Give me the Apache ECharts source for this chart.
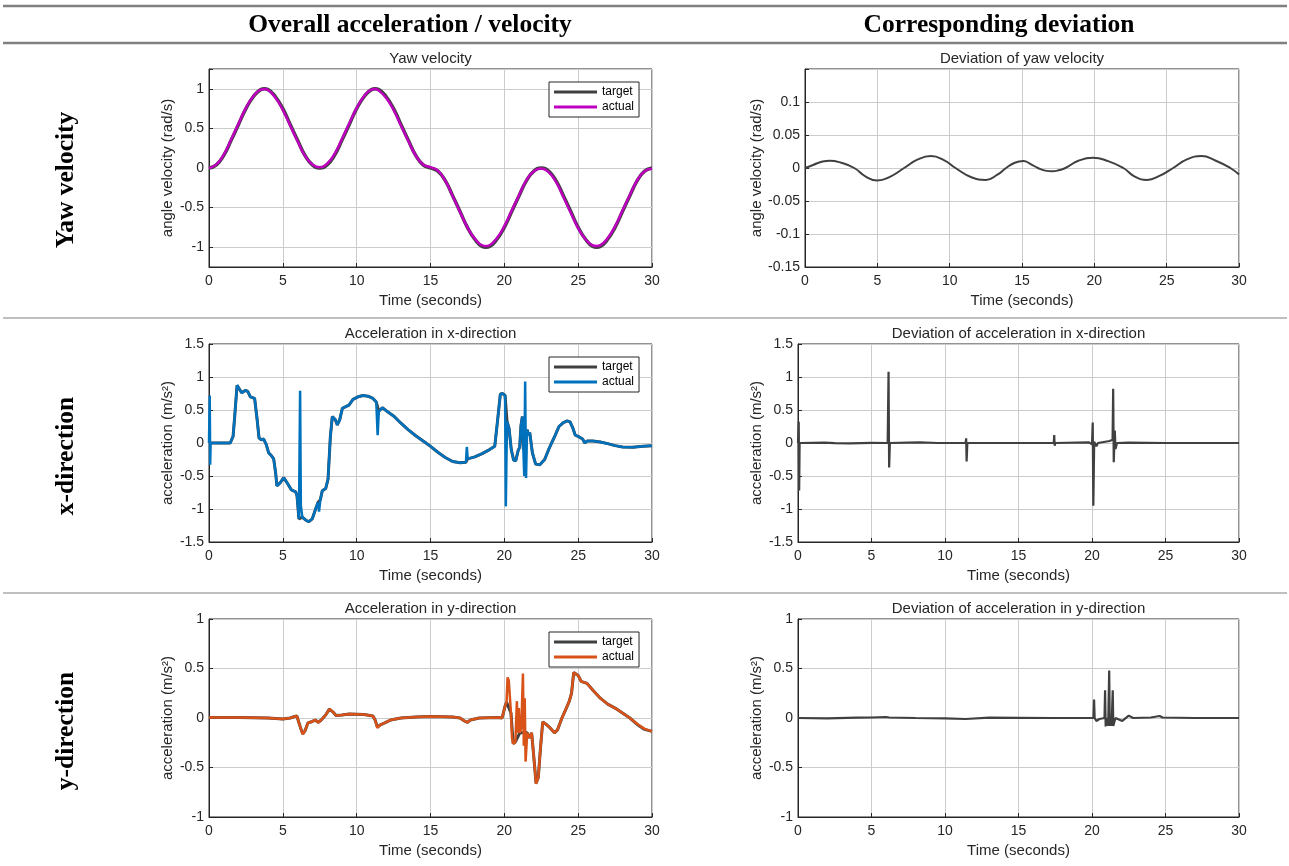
<!DOCTYPE html>
<html>
<head>
<meta charset="utf-8">
<script src="https://cdn.jsdelivr.net/npm/echarts@6/dist/echarts.min.js"></script>
<style>
html,body{margin:0;padding:0;background:#fff;}
#chart{width:1289px;height:866px;}
</style>
</head>
<body>
<div id="chart"></div>
<script>
// ---------------- DATA ----------------
const xTicks = [0, 5, 10, 15, 20, 25, 30];
const headers = ['Overall acceleration / velocity', 'Corresponding deviation'];
const rowLabels = ['Yaw velocity', 'x-direction', 'y-direction'];
const panelTitles = ['Yaw velocity', 'Deviation of yaw velocity', 'Acceleration in x-direction',
  'Deviation of acceleration in x-direction', 'Acceleration in y-direction', 'Deviation of acceleration in y-direction'];
const legendNames = ['target', 'actual'];

// yaw velocity (rad/s) [time, value]
const yawTarget = [[0,0],[0.5,0.04],[1,0.16],[1.5,0.35],[2,0.55],[2.5,0.75],[3,0.9],[3.5,0.99],[3.75,1],[4,0.99],[4.5,0.9],[5,0.75],[5.5,0.55],[6,0.35],[6.5,0.16],[7,0.04],[7.5,0],[8,0.04],[8.5,0.16],[9,0.35],[9.5,0.55],[10,0.75],[10.5,0.9],[11,0.99],[11.25,1],[11.5,0.99],[12,0.9],[12.5,0.75],[13,0.55],[13.5,0.35],[14,0.16],[14.5,0.04],[15,0],[15.5,-0.04],[16,-0.16],[16.5,-0.35],[17,-0.55],[17.5,-0.75],[18,-0.9],[18.5,-0.99],[18.75,-1],[19,-0.99],[19.5,-0.9],[20,-0.75],[20.5,-0.55],[21,-0.35],[21.5,-0.16],[22,-0.04],[22.5,0],[23,-0.04],[23.5,-0.16],[24,-0.35],[24.5,-0.55],[25,-0.75],[25.5,-0.9],[26,-0.99],[26.25,-1],[26.5,-0.99],[27,-0.9],[27.5,-0.75],[28,-0.55],[28.5,-0.35],[29,-0.16],[29.5,-0.04],[30,0]];
const yawActual = [[0,0],[0.5,0.045],[1,0.17],[1.5,0.36],[2,0.56],[2.5,0.758],[3,0.905],[3.5,0.99],[3.75,0.997],[4,0.985],[4.5,0.887],[5,0.731],[5.5,0.535],[6,0.337],[6.5,0.153],[7,0.044],[7.5,0.008],[8,0.055],[8.5,0.177],[9,0.366],[9.5,0.564],[10,0.758],[10.5,0.905],[11,0.99],[11.25,0.996],[11.5,0.978],[12,0.883],[12.5,0.732],[13,0.536],[13.5,0.34],[14,0.158],[14.5,0.045],[15,0.01],[15.5,-0.034],[16,-0.16],[16.5,-0.353],[17,-0.554],[17.5,-0.75],[18,-0.892],[18.5,-0.978],[18.75,-0.986],[19,-0.975],[19.5,-0.885],[20,-0.735],[20.5,-0.537],[21,-0.34],[21.5,-0.153],[22,-0.04],[22.5,-0.006],[23,-0.052],[23.5,-0.176],[24,-0.367],[24.5,-0.565],[25,-0.76],[25.5,-0.9],[26,-0.978],[26.25,-0.985],[26.5,-0.975],[27,-0.883],[27.5,-0.733],[28,-0.537],[28.5,-0.34],[29,-0.155],[29.5,-0.04],[30,-0.01]];
const yawDeviation = [[0,0],[0.6,0.005],[1.1,0.009],[1.7,0.011],[2.5,0.008],[3.4,0],[4.2,-0.013],[5,-0.019],[5.9,-0.013],[6.85,0],[7.8,0.013],[8.7,0.018],[9.6,0.012],[10.4,0],[11.5,-0.014],[12.5,-0.018],[13.3,-0.01],[13.9,0],[14.5,0.008],[15.1,0.0105],[15.6,0.006],[16.1,0],[16.6,-0.004],[17.1,-0.005],[17.6,-0.003],[18,0],[18.9,0.011],[19.9,0.0155],[21,0.01],[22,0],[22.8,-0.013],[23.65,-0.018],[24.5,-0.012],[25.45,0],[26.4,0.013],[27.4,0.018],[28.4,0.011],[29.4,0],[30,-0.01]];

// acceleration in x-direction (m/s^2)
const xAccTarget = [[0,0],[1.44,0],[1.63,0.1],[1.74,0.4],[1.9,0.875],[2.03,0.85],[2.21,0.76],[2.48,0.8],[2.64,0.775],[2.8,0.7],[3.09,0.675],[3.25,0.375],[3.39,0.075],[3.54,0.05],[3.7,0.06],[3.88,-0.025],[4.04,-0.15],[4.22,-0.19],[4.38,-0.24],[4.51,-0.45],[4.6,-0.65],[4.79,-0.61],[5.06,-0.525],[5.19,-0.54],[5.35,-0.625],[5.58,-0.71],[5.87,-0.74],[5.96,-0.8],[6.09,-1.15],[6.32,-1.125],[6.6,-1.175],[6.77,-1.19],[6.99,-1.15],[7.22,-1.0],[7.38,-0.9],[7.54,-0.86],[7.67,-0.725],[7.9,-0.69],[8.06,-0.55],[8.22,0.1],[8.35,0.4],[8.44,0.425],[8.56,0.35],[8.69,0.275],[8.85,0.35],[9.03,0.525],[9.26,0.55],[9.48,0.575],[9.75,0.66],[10.09,0.7],[10.43,0.72],[10.77,0.71],[11.1,0.675],[11.33,0.62],[11.5,0.48],[11.74,0.535],[12,0.49],[12.5,0.41],[13,0.3],[13.5,0.2],[14,0.11],[14.5,0.03],[15,-0.05],[15.5,-0.14],[16,-0.22],[16.5,-0.28],[17,-0.3],[17.4,-0.29],[17.52,-0.24],[18,-0.21],[18.5,-0.16],[19,-0.1],[19.35,-0.05],[19.57,0.4],[19.73,0.74],[19.87,0.75],[20.05,0.72],[20.18,0.33],[20.32,0.22],[20.47,-0.1],[20.63,-0.26],[20.77,-0.27],[20.93,-0.12],[21.04,-0.06],[21.13,0.27],[21.22,0.4],[21.29,-0.1],[21.54,0.2],[21.65,0.12],[21.72,0.16],[21.9,-0.15],[22.12,-0.32],[22.4,-0.33],[22.73,-0.25],[23,-0.1],[23.2,0],[23.45,0.12],[23.7,0.25],[24,0.31],[24.25,0.335],[24.45,0.32],[24.65,0.22],[24.8,0.12],[25,0.1],[25.3,0.06],[25.45,0],[25.6,0.03],[26,0.03],[26.5,0.015],[27,-0.01],[27.5,-0.04],[28,-0.06],[28.7,-0.065],[29.4,-0.05],[30,-0.04]];
const xAccActual = [[0,0],[0.05,0.72],[0.08,-0.33],[0.11,0],[1.44,0],[1.63,0.1],[1.74,0.4],[1.9,0.875],[2.03,0.85],[2.21,0.76],[2.48,0.8],[2.64,0.775],[2.8,0.7],[3.09,0.675],[3.25,0.375],[3.39,0.075],[3.54,0.05],[3.7,0.06],[3.88,-0.025],[4.04,-0.15],[4.22,-0.19],[4.38,-0.24],[4.51,-0.45],[4.6,-0.65],[4.79,-0.61],[5.06,-0.525],[5.19,-0.54],[5.35,-0.625],[5.58,-0.71],[5.87,-0.74],[5.96,-0.8],[6.09,-1.15],[6.17,0.79],[6.22,-0.95],[6.32,-1.125],[6.42,-1.12],[6.6,-1.175],[6.77,-1.19],[6.99,-1.15],[7.22,-1.0],[7.38,-0.9],[7.45,-1.04],[7.54,-0.86],[7.67,-0.725],[7.9,-0.69],[8.06,-0.55],[8.22,0.1],[8.35,0.4],[8.44,0.425],[8.56,0.35],[8.69,0.275],[8.85,0.35],[9.03,0.525],[9.26,0.55],[9.48,0.575],[9.75,0.66],[10.09,0.7],[10.43,0.72],[10.77,0.71],[11.1,0.675],[11.33,0.62],[11.42,0.12],[11.5,0.48],[11.74,0.535],[12,0.49],[12.5,0.41],[13,0.3],[13.5,0.2],[14,0.11],[14.5,0.03],[15,-0.05],[15.5,-0.14],[16,-0.22],[16.5,-0.28],[17,-0.3],[17.4,-0.29],[17.46,-0.06],[17.52,-0.24],[18,-0.21],[18.5,-0.16],[19,-0.1],[19.35,-0.05],[19.57,0.4],[19.73,0.74],[19.87,0.75],[20.05,0.72],[20.1,-0.96],[20.18,0.33],[20.32,0.22],[20.47,-0.1],[20.63,-0.26],[20.77,-0.27],[20.93,-0.12],[21.04,-0.06],[21.13,0.27],[21.22,0.4],[21.29,-0.1],[21.35,-0.5],[21.41,0.93],[21.47,-0.53],[21.54,0.2],[21.65,0.12],[21.72,0.16],[21.9,-0.15],[22.12,-0.32],[22.4,-0.33],[22.73,-0.25],[23,-0.1],[23.2,0],[23.45,0.12],[23.7,0.25],[24,0.31],[24.25,0.335],[24.45,0.32],[24.65,0.22],[24.8,0.12],[25,0.1],[25.3,0.06],[25.45,0],[25.6,0.03],[26,0.03],[26.5,0.015],[27,-0.01],[27.5,-0.04],[28,-0.06],[28.7,-0.065],[29.4,-0.05],[30,-0.04]];
const xAccDeviation = [[0,0],[0.05,0.32],[0.08,-0.72],[0.11,0],[1.8,0.005],[2.5,-0.003],[3.5,-0.005],[5,0.003],[6.1,0],[6.16,1.08],[6.2,-0.37],[6.25,0],[7.5,0.005],[8.3,0.008],[9.5,0],[11.4,0],[11.44,0.07],[11.47,-0.28],[11.52,0],[17.4,0],[17.43,0.12],[17.46,-0.04],[17.5,0],[19.8,0.01],[20,-0.02],[20.05,0.31],[20.09,-0.95],[20.15,0.02],[20.3,-0.05],[20.4,0],[21.2,0.03],[21.4,0.05],[21.44,0.82],[21.48,-0.29],[21.55,0.19],[21.6,-0.09],[21.7,0],[22.5,0.005],[25,0],[30,0]];

// acceleration in y-direction (m/s^2)
const yAccTarget = [[0,0.005],[2,0.005],[4,0],[5,-0.01],[5.5,0],[5.8,0.015],[5.95,0.02],[6.2,-0.1],[6.35,-0.16],[6.5,-0.13],[6.7,-0.05],[7,-0.035],[7.2,-0.02],[7.4,-0.045],[7.6,-0.02],[7.9,0.03],[8.15,0.09],[8.4,0.06],[8.6,0.025],[9,0.03],[9.5,0.04],[10.5,0.035],[11.1,0.02],[11.25,-0.02],[11.4,-0.09],[11.6,-0.07],[11.9,-0.05],[12.3,-0.02],[13,0],[14,0.01],[15,0.015],[16.5,0.01],[17,0],[17.3,-0.03],[17.5,-0.045],[17.7,-0.02],[18.3,0],[19.6,0.005],[19.85,0],[20.05,0.12],[20.15,0.16],[20.45,0.05],[20.6,-0.26],[20.75,-0.24],[21.05,-0.15],[21.55,-0.15],[21.7,-0.2],[21.85,-0.15],[22,-0.4],[22.15,-0.66],[22.3,-0.6],[22.45,-0.3],[22.6,-0.04],[22.8,-0.06],[23.1,-0.1],[23.4,-0.15],[23.6,-0.12],[23.9,0],[24.2,0.1],[24.4,0.17],[24.55,0.25],[24.7,0.46],[24.8,0.47],[25,0.43],[25.2,0.37],[25.6,0.35],[26,0.28],[26.5,0.2],[27,0.14],[27.5,0.1],[28,0.05],[28.5,0],[29,-0.065],[29.5,-0.115],[30,-0.135]];
const yAccActual = [[0,0.005],[2,0.005],[4,0],[5,-0.01],[5.5,0],[5.8,0.015],[5.95,0.02],[6.2,-0.1],[6.35,-0.165],[6.5,-0.13],[6.7,-0.05],[7,-0.035],[7.2,-0.02],[7.4,-0.045],[7.6,-0.02],[7.9,0.03],[8.15,0.09],[8.4,0.06],[8.6,0.025],[9,0.03],[9.5,0.04],[10.5,0.035],[11.1,0.02],[11.25,-0.02],[11.4,-0.1],[11.6,-0.07],[11.9,-0.05],[12.3,-0.02],[13,0],[14,0.01],[15,0.015],[16.5,0.01],[17,0],[17.3,-0.03],[17.5,-0.045],[17.7,-0.02],[18.3,0],[19.6,0.005],[19.85,0],[20.05,0.12],[20.15,0.16],[20.22,0.41],[20.3,0.38],[20.45,0.05],[20.52,-0.2],[20.6,-0.26],[20.75,-0.24],[20.85,0.17],[20.9,-0.15],[20.98,0.1],[21.05,-0.15],[21.15,-0.1],[21.26,0.45],[21.32,-0.28],[21.38,0.2],[21.44,-0.44],[21.55,-0.15],[21.7,-0.2],[21.85,-0.15],[22,-0.4],[22.15,-0.665],[22.3,-0.6],[22.45,-0.3],[22.6,-0.04],[22.8,-0.06],[23.1,-0.1],[23.4,-0.15],[23.6,-0.12],[23.9,0],[24.2,0.1],[24.4,0.17],[24.55,0.25],[24.7,0.46],[24.8,0.475],[25,0.43],[25.2,0.37],[25.6,0.35],[26,0.28],[26.5,0.2],[27,0.14],[27.5,0.1],[28,0.05],[28.5,0],[29,-0.06],[29.5,-0.11],[30,-0.135]];
const yAccDeviation = [[0,0],[2,-0.003],[4,0.003],[5,0.005],[6,0.01],[6.1,0.02],[6.2,0.005],[8,0],[10,-0.003],[11.4,-0.01],[11.5,0],[13,0.003],[15,0.002],[17.3,0],[17.4,-0.012],[17.5,0],[20.1,0],[20.14,0.187],[20.18,0],[20.3,-0.03],[20.5,-0.01],[20.85,0],[20.89,0.28],[20.93,-0.085],[21,0],[21.1,-0.08],[21.17,0.48],[21.21,-0.08],[21.25,0.02],[21.3,-0.08],[21.35,0],[21.41,0.28],[21.45,-0.08],[21.5,-0.05],[21.6,0],[22.06,-0.03],[22.5,0.024],[22.8,0],[24,0.005],[24.6,0.02],[24.8,0.005],[27,0],[30,0]];

// ---------------- STYLE / LAYOUT ----------------
const FONT = 'Liberation Sans, Arial, Helvetica, sans-serif';
const SERIF = 'Liberation Serif, Times New Roman, serif';
const AX = '#262626';
const GRIDC = '#cccccc';
const TARGET_C = '#404040';
const grids = [
  {left: 209, top: 69, width: 443, height: 198},
  {left: 805, top: 69, width: 434, height: 198},
  {left: 209, top: 344, width: 443, height: 198},
  {left: 798, top: 344, width: 441, height: 198},
  {left: 209, top: 619, width: 443, height: 198},
  {left: 798, top: 619, width: 441, height: 198}
];
const yCfg = [
  {min: -1.25, max: 1.25, name: 'angle velocity (rad/s)', gap: 34, hide: [-1.25, 1.25]},
  {min: -0.15, max: 0.15, interval: 0.05, name: 'angle velocity (rad/s)', gap: 41, hide: [0.15]},
  {min: -1.5, max: 1.5, interval: 0.5, name: 'acceleration (m/s²)', gap: 34, hide: []},
  {min: -1.5, max: 1.5, interval: 0.5, name: 'acceleration (m/s²)', gap: 34, hide: []},
  {min: -1, max: 1, interval: 0.5, name: 'acceleration (m/s²)', gap: 34, hide: []},
  {min: -1, max: 1, interval: 0.5, name: 'acceleration (m/s²)', gap: 34, hide: []}
];

const option = {
  backgroundColor: '#fff',
  animation: false,
  grid: grids.map(g => Object.assign({show: true, borderColor: AX, borderWidth: 1, backgroundColor: '#fff'}, g)),
  xAxis: grids.map((g, i) => ({
    gridIndex: i, type: 'value', min: xTicks[0], max: xTicks[xTicks.length - 1], interval: xTicks[1] - xTicks[0],
    axisLine: {show: true, onZero: false, lineStyle: {color: AX, width: 1}},
    axisTick: {show: true, inside: true, length: 4, lineStyle: {color: AX}},
    axisLabel: {margin: 7, fontSize: 14, color: AX, fontFamily: FONT},
    splitLine: {show: true, lineStyle: {color: GRIDC, width: 1}},
    name: 'Time (seconds)', nameLocation: 'middle', nameGap: 26,
    nameTextStyle: {fontSize: 15, color: AX, fontFamily: FONT}
  })),
  yAxis: yCfg.map((c, i) => {
    const a = {
      gridIndex: i, type: 'value', min: c.min, max: c.max,
      axisLine: {show: true, lineStyle: {color: AX, width: 1}},
      axisTick: {show: true, inside: true, length: 4, lineStyle: {color: AX}},
      axisLabel: {margin: 5, fontSize: 14, color: AX, fontFamily: FONT,
        formatter: v => c.hide.some(h => Math.abs(h - v) < 1e-9) ? '' : String(+v.toFixed(4))},
      splitLine: {show: true, lineStyle: {color: GRIDC, width: 1}},
      name: c.name, nameLocation: 'middle', nameGap: c.gap, nameRotate: 90,
      nameTextStyle: {fontSize: 15, color: AX, fontFamily: FONT}
    };
    if (c.interval) a.interval = c.interval; else a.splitNumber = 5;
    return a;
  }),
  legend: [0, 2, 4].map((gi, k) => ({
    left: 549, top: grids[gi].top + 13, orient: 'vertical', icon: 'rect',
    itemWidth: 43, itemHeight: 3, itemGap: 1, padding: [3, 5, 3, 5],
    backgroundColor: '#fff', borderColor: AX, borderWidth: 1, borderRadius: 0,
    selectedMode: false,
    textStyle: {fontSize: 12, color: '#000', fontFamily: FONT, lineHeight: 14},
    formatter: n => n.split('|')[0],
    data: legendNames.map(n => n + '|' + k)
  })),
  series: [],
  graphic: []
};

function lineSeries(name, gi, data, color, width, smooth, z) {
  return {
    type: 'line', name: name, xAxisIndex: gi, yAxisIndex: gi, data: data,
    showSymbol: false, symbol: 'none', smooth: smooth, z: z,
    itemStyle: {color: color}, lineStyle: {color: color, width: width},
    emphasis: {disabled: true}, silent: true
  };
}
option.series.push(
  lineSeries('target|0', 0, yawTarget, TARGET_C, 3.5, true, 2),
  lineSeries('actual|0', 0, yawActual, '#C000C0', 2.5, true, 3),
  lineSeries('dev0', 1, yawDeviation, TARGET_C, 2, true, 3),
  lineSeries('target|1', 2, xAccTarget, TARGET_C, 3, false, 2),
  lineSeries('actual|1', 2, xAccActual, '#0072BD', 2.5, false, 3),
  lineSeries('dev1', 3, xAccDeviation, TARGET_C, 2.2, false, 3),
  lineSeries('target|2', 4, yAccTarget, TARGET_C, 3, false, 2),
  lineSeries('actual|2', 4, yAccActual, '#D95319', 2.5, false, 3),
  lineSeries('dev2', 5, yAccDeviation, TARGET_C, 2.2, false, 3)
);

// header rules and texts
const G = option.graphic;
[[6, 2.5], [43, 2.5], [318, 1.2], [593, 1.2]].forEach(([y, w]) => {
  G.push({type: 'line', shape: {x1: 3, y1: y, x2: 1287, y2: y}, style: {stroke: '#808080', lineWidth: w}, silent: true});
});
[[410, headers[0]], [999, headers[1]]].forEach(([x, t]) => {
  G.push({type: 'text', x: x, y: 25, silent: true,
    style: {text: t, fontSize: 25.5, fontWeight: 'bold', fontFamily: SERIF, fill: '#000', align: 'center', verticalAlign: 'middle'}});
});
[180, 456, 731].forEach((y, i) => {
  G.push({type: 'text', x: 66, y: y, rotation: Math.PI / 2, silent: true,
    style: {text: rowLabels[i], fontSize: 25.5, fontWeight: 'bold', fontFamily: SERIF, fill: '#000', align: 'center', verticalAlign: 'middle'}});
});
grids.forEach((g, i) => {
  G.push({type: 'text', x: g.left + g.width / 2, y: g.top - 10, silent: true,
    style: {text: panelTitles[i], fontSize: 15, fontFamily: FONT, fill: AX, align: 'center', verticalAlign: 'middle'}});
});

const chart = echarts.init(document.getElementById('chart'), null, {renderer: 'canvas', width: 1289, height: 866});
chart.setOption(option);
</script>
</body>
</html>
